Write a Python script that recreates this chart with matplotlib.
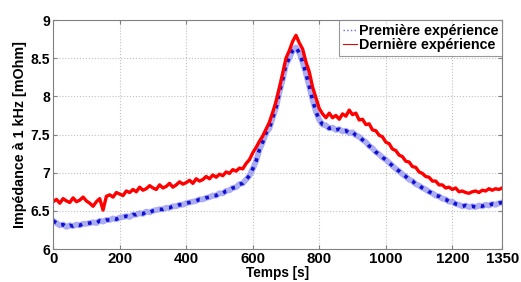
import numpy as np
import matplotlib.pyplot as plt
from matplotlib.lines import Line2D

plt.rcParams['font.family'] = ['Liberation Sans', 'DejaVu Sans']
plt.rcParams['font.weight'] = 'bold'

# time axis, one reading every 10 s
t = np.arange(0, 1351, 10)

# Premiere experience (blue)
premiere = [6.37, 6.34, 6.31, 6.32, 6.29, 6.31, 6.30, 6.32, 6.31, 6.33,
            6.33, 6.34, 6.35, 6.34, 6.37, 6.36, 6.38, 6.38, 6.40, 6.39,
            6.41, 6.42, 6.43, 6.42, 6.45, 6.45, 6.47, 6.46, 6.49, 6.48,
            6.50, 6.51, 6.52, 6.52, 6.54, 6.54, 6.56, 6.56, 6.58, 6.58,
            6.60, 6.61, 6.62, 6.63, 6.65, 6.65, 6.67, 6.68, 6.70, 6.70,
            6.73, 6.73, 6.76, 6.77, 6.80, 6.81, 6.85, 6.86, 6.91, 6.96,
            7.05, 7.15, 7.30, 7.40, 7.52, 7.58, 7.72, 7.85, 8.05, 8.22,
            8.42, 8.50, 8.60, 8.64, 8.57, 8.45, 8.30, 8.13, 7.95, 7.80,
            7.69, 7.63, 7.62, 7.58, 7.59, 7.56, 7.57, 7.54, 7.55, 7.52,
            7.53, 7.49, 7.47, 7.43, 7.40, 7.35, 7.32, 7.27, 7.24, 7.20,
            7.17, 7.13, 7.09, 7.05, 7.02, 6.98, 6.95, 6.91, 6.89, 6.85,
            6.83, 6.80, 6.78, 6.75, 6.73, 6.70, 6.69, 6.66, 6.65, 6.62,
            6.62, 6.59, 6.58, 6.56, 6.57, 6.55, 6.56, 6.55, 6.57, 6.56,
            6.58, 6.57, 6.59, 6.58, 6.60, 6.61]

# Derniere experience (red)
derniere = [6.62, 6.65, 6.60, 6.66, 6.63, 6.61, 6.67, 6.62, 6.64, 6.68,
            6.63, 6.60, 6.56, 6.62, 6.66, 6.51, 6.69, 6.71, 6.68, 6.74,
            6.72, 6.70, 6.76, 6.74, 6.78, 6.75, 6.81, 6.77, 6.79, 6.83,
            6.80, 6.78, 6.84, 6.80, 6.82, 6.86, 6.81, 6.84, 6.88, 6.85,
            6.87, 6.90, 6.86, 6.92, 6.89, 6.91, 6.95, 6.92, 6.97, 6.94,
            6.98, 6.96, 7.01, 6.99, 7.04, 7.02, 7.06, 7.05, 7.12, 7.17,
            7.26, 7.33, 7.41, 7.48, 7.57, 7.66, 7.79, 7.93, 8.11, 8.30,
            8.50, 8.60, 8.72, 8.80, 8.70, 8.62, 8.45, 8.32, 8.12, 7.98,
            7.84, 7.77, 7.72, 7.78, 7.72, 7.75, 7.70, 7.77, 7.74, 7.82,
            7.76, 7.78, 7.69, 7.70, 7.63, 7.64, 7.56, 7.55, 7.49, 7.47,
            7.40, 7.38, 7.31, 7.29, 7.23, 7.21, 7.15, 7.14, 7.08, 7.07,
            7.01, 6.99, 6.95, 6.94, 6.89, 6.89, 6.84, 6.84, 6.80, 6.81,
            6.78, 6.80, 6.75, 6.76, 6.74, 6.73, 6.75, 6.76, 6.74, 6.77,
            6.76, 6.79, 6.77, 6.79, 6.78, 6.80]

xticks = [0, 200, 400, 600, 800, 1000, 1200, 1350]
yticks = [6, 6.5, 7, 7.5, 8, 8.5, 9]
ylabels = ['6', '6.5', '7', '7.5', '8', '8.5', '9']

fig = plt.figure(figsize=(5.21, 2.82), dpi=100)
ax = fig.add_axes([0.102, 0.117, 0.862, 0.812])

# the recorded traces are dense and noisy, so they show as thick bands
ax.plot(t, premiere, '-', color='#8a8af0', lw=4.2, alpha=0.7)
ax.plot(t, premiere, ':', color='#1010d0', lw=2.6)
ax.plot(t, derniere, '-', color='#ff0000', lw=2.4)

ax.set_xlim(0, 1350)
ax.set_ylim(6, 9)
ax.set_xticks(xticks)
ax.set_xticklabels([str(v) for v in xticks], fontsize=10.8)
ax.set_yticks(yticks)
ax.set_yticklabels(ylabels, fontsize=10)
ax.tick_params(direction='in', top=True, right=True, pad=2, length=3, color='#808080')
ax.grid(True, linestyle=':', color='#c0c0c0', lw=0.8)
for s in ax.spines.values():
    s.set_color('#808080')

ax.set_xlabel('Temps [s]', fontsize=9.8, fontweight='bold', labelpad=0)
ax.set_ylabel('Impédance à 1 kHz [mOhm]', fontsize=10.3, fontweight='bold', labelpad=3)

handles = [Line2D([], [], color='#6a6ae0', ls=':', lw=1.0),
           Line2D([], [], color='#d01010', ls='-', lw=0.8)]
leg = ax.legend(handles, ['Première expérience', 'Dernière expérience'],
                loc='upper right', fontsize=10.3, frameon=True, fancybox=False,
                borderaxespad=0, handlelength=1.0, handletextpad=0.15,
                borderpad=0.25, labelspacing=0.05)
leg.get_frame().set_edgecolor('#808080')
leg.get_frame().set_linewidth(0.8)

fig.savefig('out.png', dpi=100)
